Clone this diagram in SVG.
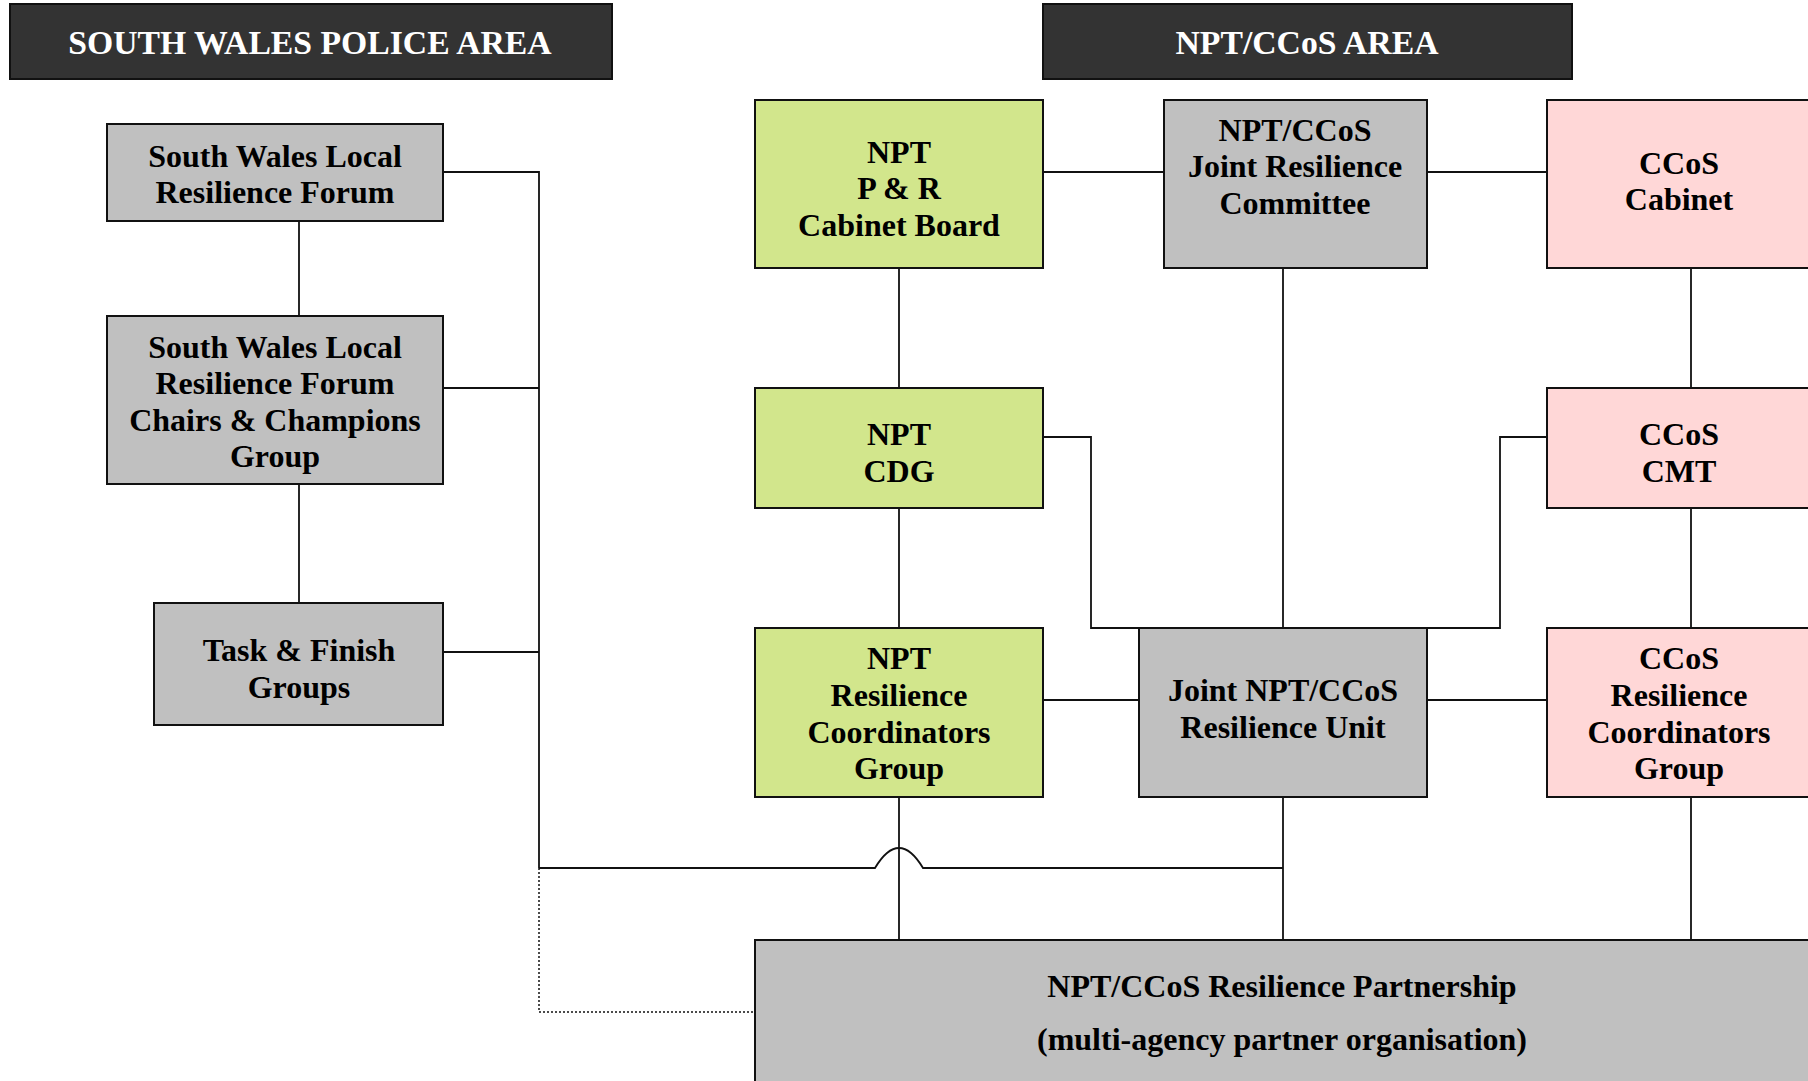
<svg xmlns="http://www.w3.org/2000/svg" width="1808" height="1081" viewBox="0 0 1808 1081">
<style>
.hdr{fill:#333333;stroke:#111111;stroke-width:2}
.ht{fill:#ffffff;font-family:"Liberation Serif","Times New Roman",serif;font-weight:bold;font-size:33.7px;text-anchor:middle}
.g{fill:#c0c0c0;stroke:#111111;stroke-width:2}
.gr{fill:#d2e68c;stroke:#111111;stroke-width:2}
.pk{fill:#ffd7d7;stroke:#111111;stroke-width:2}
.t{fill:#000000;font-family:"Liberation Serif","Times New Roman",serif;font-weight:bold;font-size:32px;text-anchor:middle}
.c{fill:none;stroke:#111111;stroke-width:1.8}
.d{fill:none;stroke:#111111;stroke-width:1.5;stroke-dasharray:2 2}
</style>
<rect width="1808" height="1081" fill="#ffffff"/>
<g id="connectors">
<path class="c" d="M443 172 H539 V868"/>
<path class="c" d="M443 388 H539"/>
<path class="c" d="M443 652 H539"/>
<path class="c" d="M299 221 V316"/>
<path class="c" d="M299 484 V603"/>
<path class="c" d="M539 868 H875 Q899 828 923 868 H1283"/>
<path class="d" d="M539 868 V1012 H755"/>
<path class="c" d="M1043 172 H1164"/>
<path class="c" d="M1427 172 H1547"/>
<path class="c" d="M899 268 V388"/>
<path class="c" d="M899 508 V628"/>
<path class="c" d="M899 797 V940"/>
<path class="c" d="M1283 268 V628"/>
<path class="c" d="M1283 797 V940"/>
<path class="c" d="M1691 268 V388"/>
<path class="c" d="M1691 508 V628"/>
<path class="c" d="M1691 797 V940"/>
<path class="c" d="M1043 437 H1091 V628 H1500 V437 H1547"/>
<path class="c" d="M1043 700 H1139"/>
<path class="c" d="M1427 700 H1547"/>
</g>
<g id="hdr-sw">
<rect class="hdr" x="10" y="4" width="602" height="75"/>
<text class="ht" x="310" y="54">SOUTH WALES POLICE AREA</text>
</g>
<g id="hdr-npt">
<rect class="hdr" x="1043" y="4" width="529" height="75"/>
<text class="ht" x="1307" y="54">NPT/CCoS AREA</text>
</g>
<g id="swlrf">
<rect class="g" x="107" y="124" width="336" height="97"/>
<text class="t" x="275" y="167">South Wales Local</text>
<text class="t" x="275" y="203">Resilience Forum</text>
</g>
<g id="swlrf-ccg">
<rect class="g" x="107" y="316" width="336" height="168"/>
<text class="t" x="275" y="358">South Wales Local</text>
<text class="t" x="275" y="394">Resilience Forum</text>
<text class="t" x="275" y="431">Chairs &amp; Champions</text>
<text class="t" x="275" y="467">Group</text>
</g>
<g id="task">
<rect class="g" x="154" y="603" width="289" height="122"/>
<text class="t" x="299" y="661">Task &amp; Finish</text>
<text class="t" x="299" y="698">Groups</text>
</g>
<g id="npt-pr">
<rect class="gr" x="755" y="100" width="288" height="168"/>
<text class="t" x="899" y="163">NPT</text>
<text class="t" x="899" y="199">P &amp; R</text>
<text class="t" x="899" y="236">Cabinet Board</text>
</g>
<g id="jrc">
<rect class="g" x="1164" y="100" width="263" height="168"/>
<text class="t" x="1295" y="141">NPT/CCoS</text>
<text class="t" x="1295" y="177">Joint Resilience</text>
<text class="t" x="1295" y="214">Committee</text>
</g>
<g id="ccos-cabinet">
<rect class="pk" x="1547" y="100" width="280" height="168"/>
<text class="t" x="1679" y="174">CCoS</text>
<text class="t" x="1679" y="210">Cabinet</text>
</g>
<g id="npt-cdg">
<rect class="gr" x="755" y="388" width="288" height="120"/>
<text class="t" x="899" y="445">NPT</text>
<text class="t" x="899" y="482">CDG</text>
</g>
<g id="ccos-cmt">
<rect class="pk" x="1547" y="388" width="280" height="120"/>
<text class="t" x="1679" y="445">CCoS</text>
<text class="t" x="1679" y="482">CMT</text>
</g>
<g id="npt-rcg">
<rect class="gr" x="755" y="628" width="288" height="169"/>
<text class="t" x="899" y="669">NPT</text>
<text class="t" x="899" y="706">Resilience</text>
<text class="t" x="899" y="743">Coordinators</text>
<text class="t" x="899" y="779">Group</text>
</g>
<g id="jru">
<rect class="g" x="1139" y="628" width="288" height="169"/>
<text class="t" x="1283" y="701">Joint NPT/CCoS</text>
<text class="t" x="1283" y="738">Resilience Unit</text>
</g>
<g id="ccos-rcg">
<rect class="pk" x="1547" y="628" width="280" height="169"/>
<text class="t" x="1679" y="669">CCoS</text>
<text class="t" x="1679" y="706">Resilience</text>
<text class="t" x="1679" y="743">Coordinators</text>
<text class="t" x="1679" y="779">Group</text>
</g>
<g id="partnership">
<rect class="g" x="755" y="940" width="1080" height="160"/>
<text class="t" x="1282" y="997">NPT/CCoS Resilience Partnership</text>
<text class="t" x="1282" y="1050">(multi-agency partner organisation)</text>
</g>
</svg>
